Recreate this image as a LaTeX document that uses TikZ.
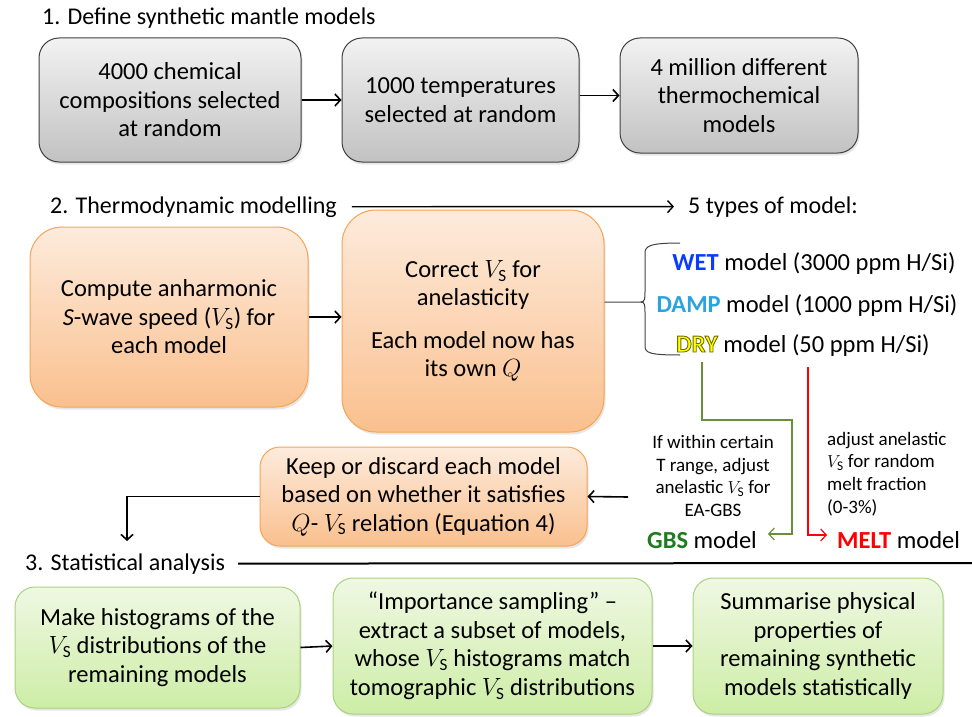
\documentclass[tikz,border=0pt]{standalone}
\usepackage{fontspec}
\usepackage{amsmath}
\setmainfont{Carlito}
\usetikzlibrary{arrows.meta,shadows,calc}

\definecolor{wetblue}{HTML}{0A3CFF}
\definecolor{dampblue}{HTML}{2AA3DE}
\definecolor{dryyellow}{HTML}{FFFF00}
\definecolor{gbsgreen}{HTML}{1E7B1E}
\definecolor{gbsline}{HTML}{6B8E3A}
\definecolor{meltred}{HTML}{FF0000}
\definecolor{orangetop}{HTML}{FDEBDC}
\definecolor{orangebot}{HTML}{FAC08E}
\definecolor{orangeedge}{HTML}{F7A454}
\definecolor{greentop}{HTML}{EFF8E3}
\definecolor{greenbot}{HTML}{CDEDA6}
\definecolor{greenedge}{HTML}{A9D27C}

\newcommand{\VS}{\ensuremath{V_{\text{S}}}}
% yellow letters with a dark olive outline (text render mode 2)
\newcommand{\outlined}[1]{%
  \textcolor{dryyellow}{\special{pdf:literal direct 0.43 0.43 0 RG 0.9 w 2 Tr}#1\special{pdf:literal direct 0 Tr}}}

\tikzset{
  box/.style={draw, rounded corners=20pt, align=center, inner sep=0pt, line width=1pt,
    font=\fontsize{24.5}{28.5}\selectfont,
    drop shadow={opacity=0.2, shadow xshift=1.5pt, shadow yshift=-2.5pt}},
  graybox/.style={box, draw=black!75, top color=black!5, bottom color=black!24},
  orangebox/.style={box, draw=orangeedge, top color=orangetop, bottom color=orangebot},
  greenbox/.style={box, draw=greenedge, top color=greentop, bottom color=greenbot},
  head/.style={anchor=base west, inner sep=0pt, font=\fontsize{24}{28}\selectfont},
  typeline/.style={anchor=base, inner sep=0pt, font=\fontsize{24.5}{28}\selectfont},
  note/.style={inner sep=0pt, font=\fontsize{19}{22.7}\selectfont},
  flow/.style={-{Straight Barb[length=5.5pt,width=12pt]}, line width=1.6pt},
}

\begin{document}
\begin{tikzpicture}[x=1pt,y=-1pt]
  \useasboundingbox (0,0) rectangle (972,717);

  % 1. synthetic models
  \node[head] (define) at (42,25) {1. Define synthetic mantle models};
  \node[graybox, minimum width=262pt, minimum height=124pt] (comp) at (170,100)
    {4000 chemical\\compositions selected\\at random};
  \node[graybox, minimum width=237pt, minimum height=124pt] (temp) at (460.5,100)
    {1000 temperatures\\selected at random};
  \node[graybox, minimum width=238pt, minimum height=115pt] (million) at (739,95.5)
    {4 million different\\thermochemical\\models};
  \draw[flow] (comp.east) -- (temp.west);
  \draw[flow] (temp.east |- million.west) -- (million.west);

  % 2. thermodynamic modelling
  \node[head] (thermo) at (50,213) {2. Thermodynamic modelling};
  \node[head] (types) at (688,213) {5 types of model:};
  \draw[flow, line width=1.4pt] ([xshift=15pt]thermo.east) -- ([xshift=-14pt]types.west);
  \node[orangebox, rounded corners=32pt, minimum width=278pt, minimum height=180pt] (anharm) at (169,317)
    {Compute anharmonic\\\textit{S}-wave speed (\VS) for\\each model};
  \node[orangebox, rounded corners=34pt, minimum width=262pt, minimum height=222pt] (anel) at (473,321)
    {Correct \VS{} for\\anelasticity\\[14pt]Each model now has\\its own $Q$};
  \draw[flow] (anharm.east) -- (anharm.east -| anel.west);

  % brace to the model types
  \coordinate (tip) at (641,302);
  \draw[black!75, line width=1pt] (anel.east |- tip) -- (tip)
    .. controls (645,302) and (645,298) .. (645,292) -- (645,253)
    .. controls (645,246) and (650,243) .. (680,243);
  \draw[black!75, line width=1pt] (tip)
    .. controls (645,302) and (645,306) .. (645,312) -- (645,346)
    .. controls (645,353) and (650,355) .. (680,355);

  \node[typeline] (wet) at (814,270) {\textbf{\textcolor{wetblue}{WET}} model (3000 ppm H/Si)};
  \node[typeline] (damp) at (807,312) {\textbf{\textcolor{dampblue}{DAMP}} model (1000 ppm H/Si)};
  \node[typeline] (dry) at (803,352) {\textbf{\outlined{DRY}} model (50 ppm H/Si)};

  \node[note, align=center] (gbsnote) at (713,476)
    {If within certain\\T range, adjust\\anelastic \VS{} for\\EA-GBS};
  \node[note, align=left, anchor=west] (meltnote) at (827,474)
    {adjust anelastic\\\VS{} for random\\melt fraction\\(0-3\%)};
  \node[typeline] (gbs) at (702,548) {\textbf{\textcolor{gbsgreen}{GBS}} model};
  \node[typeline, anchor=base west] (melt) at (837,548) {\textbf{\textcolor{meltred}{MELT}} model};

  \coordinate (drytap) at (702,362);
  \coordinate (melttap) at (808,367);
  \coordinate (gbsin) at (768,534);
  \coordinate (meltin) at (827,535);
  \draw[flow, line width=1.2pt, draw=gbsline] (drytap) -- (702,420) -| (792,534) -- (gbsin);
  \draw[flow, line width=1.2pt, draw=meltred] (melttap) |- (meltin);

  \node[orangebox, minimum width=327pt, minimum height=99pt] (keep) at (423.5,496.5)
    {Keep or discard each model\\based on whether it satisfies\\$Q$- \VS{} relation (Equation 4)};
  \coordinate (keepfrom) at (628,497);
  \draw[flow] (keepfrom) -- (keep.east);

  % 3. statistical analysis
  \node[head] (stat) at (25,570) {3. Statistical analysis};
  \coordinate (statin) at (127,541);
  \coordinate (statend) at (972,563);
  \draw[flow] (keep.west) -| (statin);
  \draw[line width=2pt] ([xshift=13pt]stat.east) -- (statend);

  \node[greenbox, minimum width=285pt, minimum height=121pt] (hist) at (157.5,647.5)
    {Make histograms of the\\\VS{} distributions of the\\remaining models};
  \node[greenbox, minimum width=319pt, minimum height=136pt] (sampling) at (492.5,646)
    {``Importance sampling'' --\\extract a subset of models,\\whose \VS{} histograms match\\tomographic \VS{} distributions};
  \node[greenbox, minimum width=250pt, minimum height=136pt] (summary) at (818,646)
    {Summarise physical\\properties of\\remaining synthetic\\models statistically};
  \draw[flow] (hist.east) -- (sampling.west);
  \draw[flow] (sampling.east) -- (summary.west);
\end{tikzpicture}
\end{document}
